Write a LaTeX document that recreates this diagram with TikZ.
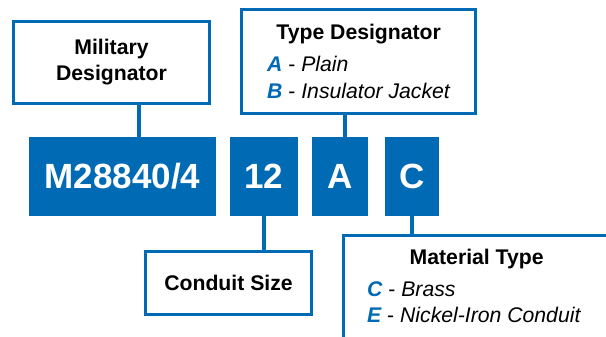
\documentclass[tikz,border=0pt]{standalone}
\usepackage{fontspec}
\setmainfont{Liberation Sans}
\definecolor{desig}{RGB}{0,106,180}
\tikzset{codebox/.style={fill=desig,text=white,inner sep=0pt,
   font=\bfseries\fontsize{35}{35}\selectfont},
 labelbox/.style={draw=desig,line width=3pt,fill=white,inner sep=0pt},
 link/.style={draw=desig,line width=3.5pt},
 txt/.style={inner sep=0pt,font=\fontsize{21.2}{26}\selectfont},
 title/.style={inner sep=0pt,font=\bfseries\fontsize{21.2}{26}\selectfont},
 every picture/.style={line join=miter,line cap=butt}}
\newcommand{\key}[1]{\textcolor{desig}{\bfseries\itshape #1}}

\begin{document}
\begin{tikzpicture}[x=1pt,y=-1pt]
\useasboundingbox (0,0) rectangle (606,337);
\clip (0,0) rectangle (606,337);
% code boxes
\node[codebox,minimum width=187pt,minimum height=79pt] (code) at (122.5,176.5) {M28840/4};
\node[codebox,minimum width=68pt,minimum height=79pt] (size) at (264,176.5) {12};
\node[codebox,minimum width=56pt,minimum height=79pt] (type) at (340,176.5) {A};
\node[codebox,minimum width=54pt,minimum height=79pt] (mat) at (412,176.5) {C};
% label boxes
\node[labelbox,minimum width=196pt,minimum height=82pt] (milBox) at (111.5,62.5) {};
\node[labelbox,minimum width=234pt,minimum height=104pt] (typeBox) at (358.5,61.5) {};
\node[labelbox,minimum width=166pt,minimum height=63pt] (sizeBox) at (228.5,283) {};
\node[labelbox,anchor=north west,minimum width=300pt,minimum height=150pt] (matBox) at (341.5,233.5) {};
% connectors
\coordinate (milTap) at (139,0);
\coordinate (typeTap) at (345,0);
\draw[link] (milBox.south -| milTap) -- (code.north -| milTap);
\draw[link] (typeBox.south -| typeTap) -- (type.north -| typeTap);
\draw[link] (size.south) -- (size.south |- sizeBox.north);
\draw[link] (mat.south) -- (mat.south |- matBox.north);
% texts
\node[title,align=center] (milText) at (milBox.center) {Military\\Designator};
\node[title,anchor=base] (typeTitle) at (358.7,40) {Type Designator};
\node[txt,anchor=base west] (typeA) at (267,71.7) {\key{A} - \itshape Plain};
\node[txt,anchor=base west] (typeB) at (267,98.7) {\key{B} - \itshape Insulator Jacket};
\node[title,anchor=base] (sizeText) at (228.5,290.7) {Conduit Size};
\node[title,anchor=base] (matTitle) at (476.7,264) {Material Type};
\node[txt,anchor=base west] (matC) at (367,296.7) {\key{C} - \itshape Brass};
\node[txt,anchor=base west] (matE) at (367,322.7) {\key{E} - \itshape Nickel-Iron Conduit};
\end{tikzpicture}
\end{document}
